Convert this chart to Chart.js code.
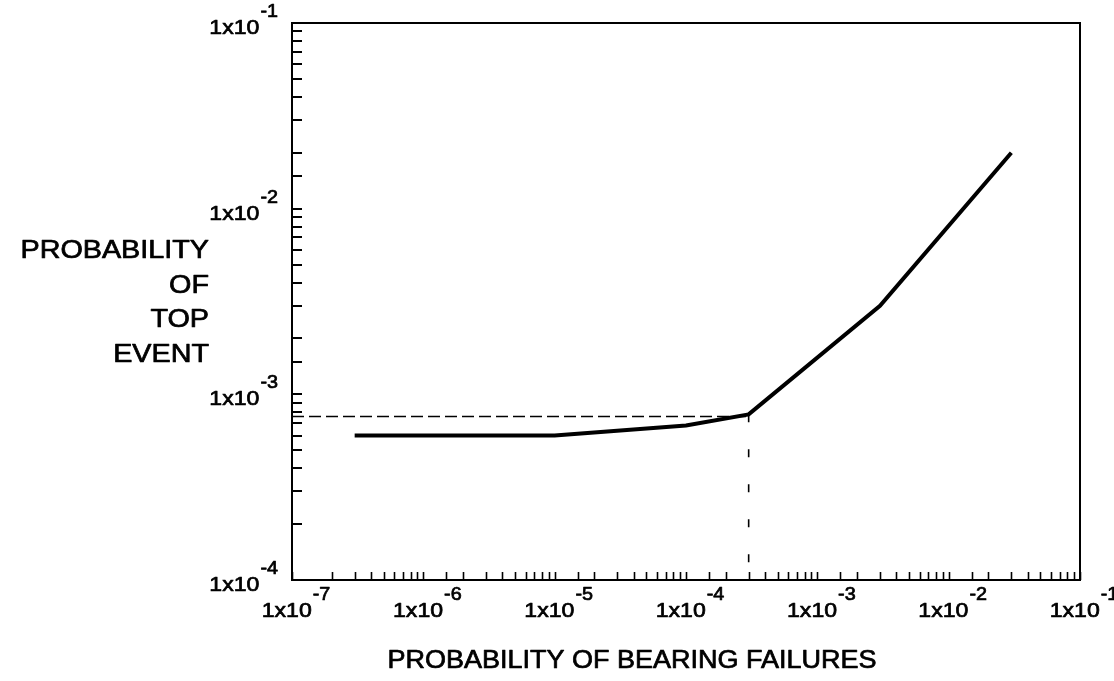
<!DOCTYPE html>
<html>
<head>
<meta charset="utf-8">
<title>Probability of top event vs bearing failures</title>
<script src="https://cdn.jsdelivr.net/npm/chart.js@4/dist/chart.umd.min.js"></script>
<style>
  html, body { margin: 0; padding: 0; background: #fff; }
  canvas { display: block; }
</style>
</head>
<body>
<canvas id="riskChart" width="1114" height="681"></canvas>
<script>
// Data
const bearingFailureProb = [3e-7, 1e-5, 1e-4, 3e-4, 3e-3, 3e-2];
const topEventProb = [6e-4, 6e-4, 6.8e-4, 7.8e-4, 3e-3, 2e-2];

// Dashed reference lines
const refHorizX = [1e-7, 3e-4];
const refHorizY = [7.6e-4, 7.6e-4];
const refVertX = [3e-4, 3e-4];
const refVertY = [7.8e-4, 1.2e-4];

// Decade tick labels (shown as 1x10^n)
const xDecades = [-7, -6, -5, -4, -3, -2, -1];
const yDecades = [-4, -3, -2, -1];

const xTitle = 'PROBABILITY OF BEARING FAILURES';
const yTitle = ['PROBABILITY', 'OF', 'TOP', 'EVENT'];

const FONT = '"Liberation Sans", Arial, Helvetica, sans-serif';

function toPoints(xs, ys) {
  return xs.map((x, i) => ({ x: x, y: ys[i] }));
}

// draw text a bit wider and heavier, like the scanned original
function drawWide(ctx, text, x, y, size, sx) {
  ctx.save();
  ctx.font = size + 'px ' + FONT;
  ctx.translate(x, y);
  ctx.scale(sx, 1);
  ctx.lineWidth = 0.7;
  ctx.lineJoin = 'round';
  ctx.fillText(text, 0, 0);
  ctx.strokeText(text, 0, 0);
  ctx.restore();
}

function wideWidth(ctx, text, size, sx) {
  ctx.save();
  ctx.font = size + 'px ' + FONT;
  const w = ctx.measureText(text).width * sx;
  ctx.restore();
  return w;
}

function powerLabelWidth(ctx, exp) {
  return wideWidth(ctx, '1x10', 21, 1.1) + 1 + wideWidth(ctx, String(exp), 18, 1.1);
}

function drawPowerLabel(ctx, exp, left, baseline) {
  const w1 = wideWidth(ctx, '1x10', 21, 1.1);
  drawWide(ctx, '1x10', left, baseline, 21, 1.1);
  drawWide(ctx, String(exp), left + w1 + 1, baseline - 17, 18, 1.1);
}

// Frame, inward tick marks, labels and titles
const axisDecor = {
  id: 'axisDecor',
  afterDraw(chart) {
    const ctx = chart.ctx;
    const area = chart.chartArea;
    const xs = chart.scales.x;
    const ys = chart.scales.y;

    ctx.save();
    ctx.strokeStyle = '#000';
    ctx.fillStyle = '#000';

    // frame
    ctx.lineWidth = 2;
    ctx.strokeRect(area.left, area.top, area.right - area.left, area.bottom - area.top);

    // x ticks pointing up
    ctx.lineWidth = 1.6;
    xs.ticks.forEach(t => {
      const px = Math.round(xs.getPixelForValue(t.value)) + 0.5;
      ctx.beginPath();
      ctx.moveTo(px, area.bottom);
      ctx.lineTo(px, area.bottom - 8);
      ctx.stroke();
    });

    // y ticks pointing right
    ctx.lineWidth = 2;
    ys.ticks.forEach(t => {
      const py = Math.round(ys.getPixelForValue(t.value));
      ctx.beginPath();
      ctx.moveTo(area.left, py);
      ctx.lineTo(area.left + 10, py);
      ctx.stroke();
    });

    // tick labels
    ctx.textAlign = 'left';
    ctx.textBaseline = 'alphabetic';
    xDecades.forEach(e => {
      const px = xs.getPixelForValue(Math.pow(10, e));
      const w = powerLabelWidth(ctx, e);
      drawPowerLabel(ctx, e, px + 4 - w / 2, area.bottom + 37);
    });
    yDecades.forEach(e => {
      const py = ys.getPixelForValue(Math.pow(10, e));
      const w = powerLabelWidth(ctx, e);
      drawPowerLabel(ctx, e, area.left - 14 - w, py + 11);
    });

    // x title
    const tw = wideWidth(ctx, xTitle, 25, 1.08);
    drawWide(ctx, xTitle, 632 - tw / 2, 668, 25, 1.08);

    // y title, right aligned block
    yTitle.forEach((line, i) => {
      const lw = wideWidth(ctx, line, 25, 1.15);
      drawWide(ctx, line, 209 - lw, 258 + i * 34.5, 25, 1.15);
    });

    ctx.restore();
  }
};

const ctx = document.getElementById('riskChart').getContext('2d');
const riskChart = new Chart(ctx, {
  type: 'line',
  data: {
    datasets: [
      {
        label: 'Top event',
        data: toPoints(bearingFailureProb, topEventProb),
        borderColor: '#000',
        borderWidth: 4,
        pointRadius: 0,
        tension: 0,
        fill: false,
      },
      {
        label: 'Reference (horizontal)',
        data: toPoints(refHorizX, refHorizY),
        borderColor: '#000',
        borderWidth: 1.5,
        borderDash: [12, 5],
        pointRadius: 0,
        fill: false,
      },
      {
        label: 'Reference (vertical)',
        data: toPoints(refVertX, refVertY),
        borderColor: '#000',
        borderWidth: 1.6,
        borderDash: [8, 27],
        pointRadius: 0,
        fill: false,
      },
    ],
  },
  options: {
    responsive: false,
    animation: false,
    layout: {
      padding: { left: 292, right: 34, top: 23, bottom: 101 },
    },
    plugins: {
      legend: { display: false },
      tooltip: { enabled: false },
    },
    scales: {
      x: {
        type: 'logarithmic',
        min: 1e-7,
        max: 1e-1,
        grid: { display: false, drawTicks: false },
        border: { display: false },
        ticks: { display: false, autoSkip: false },
      },
      y: {
        type: 'logarithmic',
        min: 1e-4,
        max: 1e-1,
        grid: { display: false, drawTicks: false },
        border: { display: false },
        ticks: { display: false, autoSkip: false },
      },
    },
  },
  plugins: [axisDecor],
});
</script>
</body>
</html>
